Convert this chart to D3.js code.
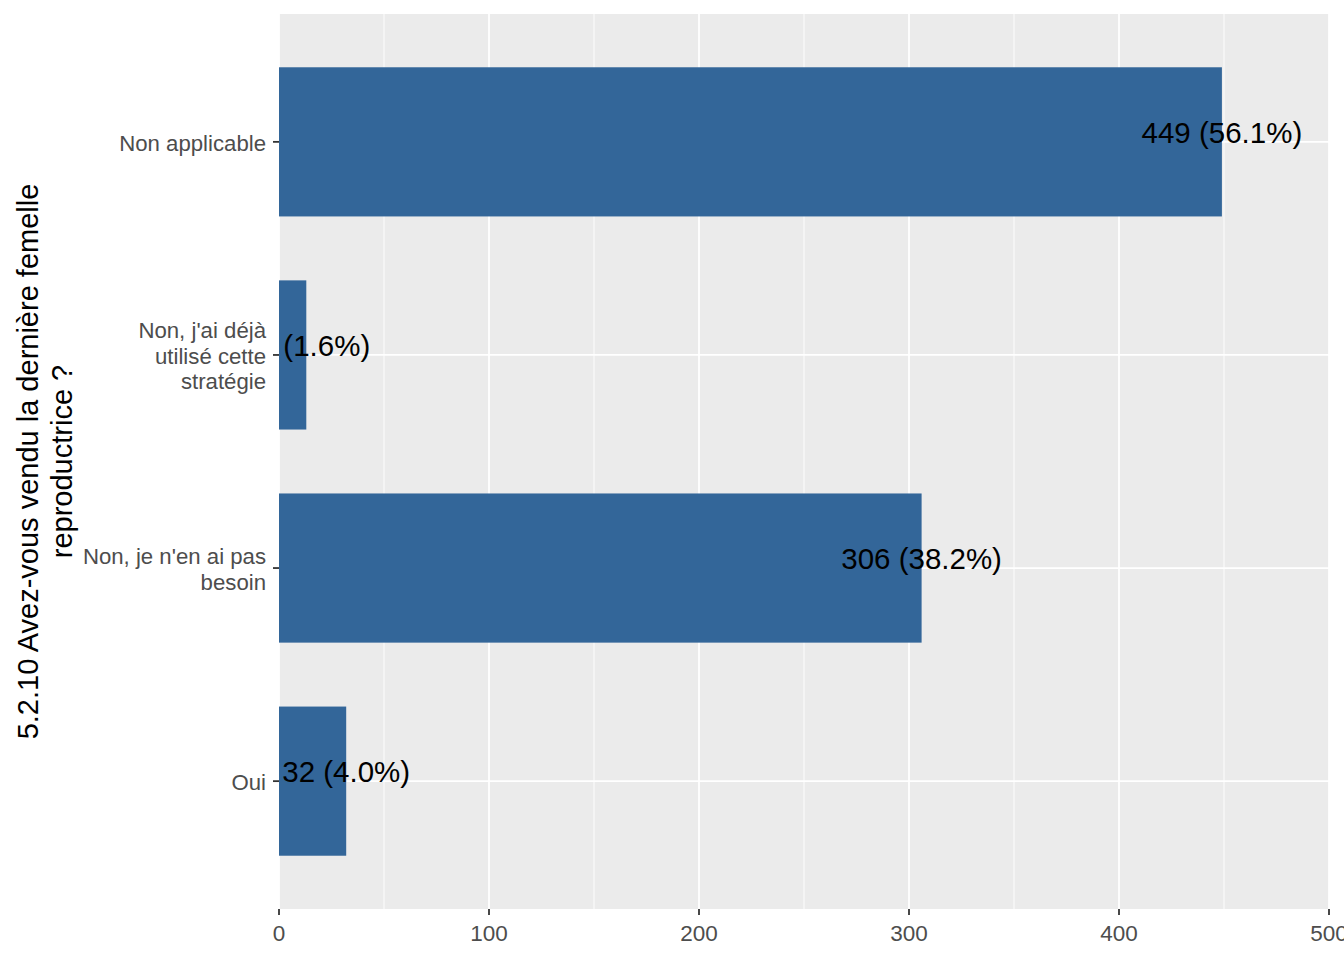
<!DOCTYPE html>
<html>
<head>
<meta charset="utf-8">
<script src="https://cdn.jsdelivr.net/npm/d3@7"></script>
<style>
  body { margin: 0; background: #fff; }
  svg { display: block; font-family: "Liberation Sans", Arial, sans-serif; }
</style>
</head>
<body>
<div id="chart"></div>
<script>
// categories top to bottom, counts, and wrapped tick labels
var categories = ["Non applicable", "Non, j'ai déjà utilisé cette stratégie", "Non, je n'en ai pas besoin", "Oui"];
var tickLines = [["Non applicable"], ["Non, j'ai déjà", "utilisé cette", "stratégie"], ["Non, je n'en ai pas", "besoin"], ["Oui"]];
var counts = [449, 13, 306, 32];
var percents = ["56.1%", "1.6%", "38.2%", "4.0%"];
var xTicks = [0, 100, 200, 300, 400, 500];
var xMinor = [50, 150, 250, 350, 450];
var titleLines = ["5.2.10 Avez-vous vendu la dernière femelle", "reproductrice ?"];

var dims = { width: 1344, height: 960, left: 279, right: 1329, top: 14, bottom: 909 };

var x = d3.scaleLinear().domain([0, 500]).range([dims.left, dims.right]);
var y = d3.scaleBand().domain(categories).range([dims.top, dims.bottom])
    .paddingInner(0.3).paddingOuter(0.25);

var svg = d3.select('#chart').append('svg')
    .attr('width', dims.width)
    .attr('height', dims.height);

svg.append('clipPath').attr('id', 'panel-clip')
    .append('rect')
    .attr('x', dims.left).attr('y', dims.top)
    .attr('width', dims.right - dims.left)
    .attr('height', dims.bottom - dims.top);

// panel background
svg.append('rect')
    .attr('x', dims.left).attr('y', dims.top)
    .attr('width', dims.right - dims.left)
    .attr('height', dims.bottom - dims.top)
    .attr('fill', '#ebebeb');

var grid = svg.append('g');
grid.selectAll('.minor').data(xMinor).enter().append('line')
    .attr('x1', x).attr('x2', x)
    .attr('y1', dims.top).attr('y2', dims.bottom)
    .attr('stroke', '#fff').attr('stroke-width', 0.9);
grid.selectAll('.major').data(xTicks).enter().append('line')
    .attr('x1', x).attr('x2', x)
    .attr('y1', dims.top).attr('y2', dims.bottom)
    .attr('stroke', '#fff').attr('stroke-width', 1.8);
grid.selectAll('.hmajor').data(categories).enter().append('line')
    .attr('x1', dims.left).attr('x2', dims.right)
    .attr('y1', function(d){ return y(d) + y.bandwidth() / 2; })
    .attr('y2', function(d){ return y(d) + y.bandwidth() / 2; })
    .attr('stroke', '#fff').attr('stroke-width', 1.8);

// bars
svg.append('g').selectAll('rect')
    .data(categories)
    .enter()
    .append('rect')
    .attr('x', x(0))
    .attr('y', function(d){ return y(d); })
    .attr('width', function(d, i){ return x(counts[i]) - x(0); })
    .attr('height', y.bandwidth())
    .attr('fill', '#336699');

// value labels, clipped to the panel like ggplot
svg.append('g')
    .attr('clip-path', 'url(#panel-clip)')
    .selectAll('text')
    .data(categories)
    .enter()
    .append('text')
    .attr('x', function(d, i){ return x(counts[i]); })
    .attr('y', function(d){ return y(d) + y.bandwidth() / 2 - 9; })
    .attr('dy', '0.35em')
    .attr('text-anchor', 'middle')
    .attr('font-size', 29.5)
    .attr('fill', '#000')
    .text(function(d, i){ return counts[i] + ' (' + percents[i] + ')'; });

// x axis
var xAxis = svg.append('g');
xAxis.selectAll('line').data(xTicks).enter().append('line')
    .attr('x1', x).attr('x2', x)
    .attr('y1', dims.bottom).attr('y2', dims.bottom + 6)
    .attr('stroke', '#333').attr('stroke-width', 1.8);
xAxis.selectAll('text').data(xTicks).enter().append('text')
    .attr('x', x)
    .attr('y', dims.bottom + 24)
    .attr('dy', '0.35em')
    .attr('text-anchor', 'middle')
    .attr('font-size', 22.5)
    .attr('fill', '#4d4d4d')
    .text(function(d){ return d; });

// y axis
var yAxis = svg.append('g');
yAxis.selectAll('line').data(categories).enter().append('line')
    .attr('x1', dims.left - 6).attr('x2', dims.left)
    .attr('y1', function(d){ return y(d) + y.bandwidth() / 2; })
    .attr('y2', function(d){ return y(d) + y.bandwidth() / 2; })
    .attr('stroke', '#333').attr('stroke-width', 1.8);
var lineH = 25.5;
yAxis.selectAll('text').data(categories).enter().append('text')
    .attr('text-anchor', 'end')
    .attr('font-size', 22.2)
    .attr('fill', '#4d4d4d')
    .each(function(d, i){
        var lines = tickLines[i];
        var cy = y(d) + y.bandwidth() / 2 + 1;
        var t = d3.select(this);
        lines.forEach(function(l, j){
            t.append('tspan')
                .attr('x', dims.left - 13)
                .attr('y', cy + (j - (lines.length - 1) / 2) * lineH)
                .attr('dy', '0.35em')
                .text(l);
        });
    });

// y title
var cyPanel = (dims.top + dims.bottom) / 2;
var title = svg.append('text')
    .attr('transform', 'translate(45,' + cyPanel + ') rotate(-90)')
    .attr('text-anchor', 'middle')
    .attr('font-size', 29)
    .attr('fill', '#000');
titleLines.forEach(function(l, j){
    title.append('tspan')
        .attr('x', 0)
        .attr('y', (j - 0.5) * 34)
        .attr('dy', '0.35em')
        .text(l);
});
</script>
</body>
</html>
